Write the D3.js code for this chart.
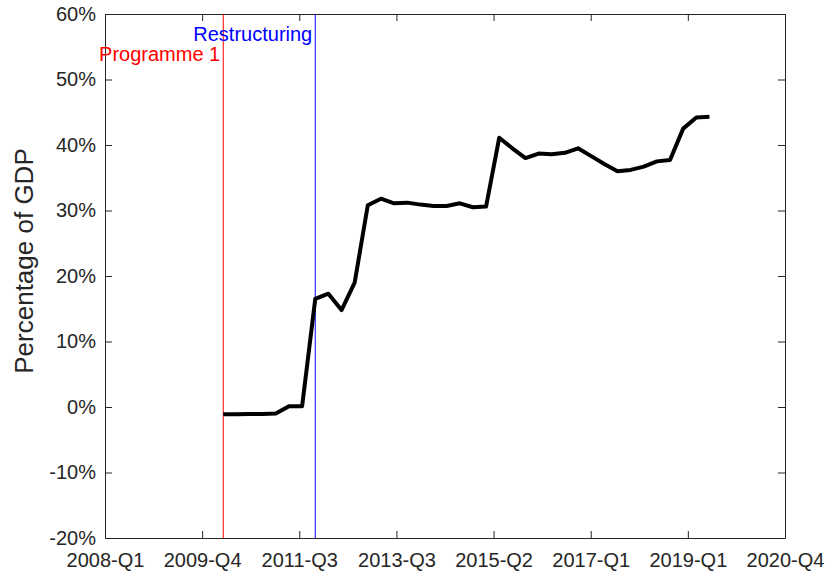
<!DOCTYPE html>
<html>
<head>
<meta charset="utf-8">
<script src="https://cdn.jsdelivr.net/npm/d3@7"></script>
<style>
  body { margin: 0; background: #fff; }
  svg { display: block; font-family: "Liberation Sans", Arial, sans-serif; }
</style>
</head>
<body>
<div id="chart"></div>
<script>
// quarter index 0 = 2008-Q1
const quarterIdx = [9, 10, 11, 12, 13, 14, 15, 16, 17, 18, 19, 20, 21, 22, 23, 24, 25, 26, 27, 28,
                    29, 30, 31, 32, 33, 34, 35, 36, 37, 38, 39, 40, 41, 42, 43, 44, 45, 46];
const values = [-1.1, -1.1, -1.05, -1.05, -1.0, 0.1, 0.1, 16.5, 17.3, 14.8, 19.0, 30.8, 31.8, 31.1, 31.2, 30.9, 30.7, 30.7, 31.1, 30.5,
                30.6, 41.1, 39.5, 38.0, 38.7, 38.6, 38.8, 39.5, 38.3, 37.1, 36.0, 36.2, 36.7, 37.5, 37.7, 42.5, 44.2, 44.3];
const xTickLabels = ["2008-Q1", "2009-Q4", "2011-Q3", "2013-Q3", "2015-Q2", "2017-Q1", "2019-Q1", "2020-Q4"];
const yTicks = [-20, -10, 0, 10, 20, 30, 40, 50, 60];
const events = [
  { idx: 9, label: "Programme 1", colour: "#ff0000", labelY: 61 },
  { idx: 16, label: "Restructuring", colour: "#0000ff", labelY: 41 }
];

const width = 827, height = 574;
const margin = { top: 14, right: 42, bottom: 36, left: 105 };
const xMax = 51.75;

const svg = d3.select("#chart").append("svg")
  .attr("width", width)
  .attr("height", height);

const x = d3.scaleLinear().domain([0, xMax]).range([margin.left, width - margin.right]);
const y = d3.scaleLinear().domain([-20, 60]).range([height - margin.bottom, margin.top]);

const xTickVals = d3.range(xTickLabels.length).map(i => i * xMax / (xTickLabels.length - 1));
const axisColour = "#262626";

// axes (box with inward ticks on all sides)
const xAxis = svg.append("g")
  .attr("transform", `translate(0,${y(-20)})`)
  .call(d3.axisBottom(x).tickValues(xTickVals).tickFormat((d, i) => xTickLabels[i])
    .tickSizeInner(-7).tickSizeOuter(0).tickPadding(15));
const xTop = svg.append("g")
  .attr("transform", `translate(0,${y(60)})`)
  .call(d3.axisTop(x).tickValues(xTickVals).tickFormat("").tickSizeInner(-7).tickSizeOuter(0));
const yAxis = svg.append("g")
  .attr("transform", `translate(${x(0)},0)`)
  .call(d3.axisLeft(y).tickValues(yTicks).tickFormat(d => d + "%")
    .tickSizeInner(-7).tickSizeOuter(0).tickPadding(9));
const yRight = svg.append("g")
  .attr("transform", `translate(${x(xMax)},0)`)
  .call(d3.axisRight(y).tickValues(yTicks).tickFormat("").tickSizeInner(-7).tickSizeOuter(0));

[xAxis, xTop, yAxis, yRight].forEach(g => {
  g.select(".domain").attr("stroke", axisColour).attr("stroke-width", 1);
  g.selectAll(".tick line").attr("stroke", axisColour).attr("stroke-width", 1);
  g.selectAll(".tick text").attr("fill", axisColour).attr("font-size", "20px")
    .attr("font-family", "Liberation Sans, Arial, sans-serif");
});

// event lines
events.forEach(e => {
  svg.append("line")
    .attr("x1", x(e.idx)).attr("x2", x(e.idx))
    .attr("y1", y(60)).attr("y2", y(-20))
    .attr("stroke", e.colour).attr("stroke-width", 1);
  svg.append("text")
    .attr("x", x(e.idx) - 3)
    .attr("y", e.labelY)
    .attr("text-anchor", "end")
    .attr("font-size", "20px")
    .attr("fill", e.colour)
    .text(e.label);
});

// series
const line = d3.line()
  .x((d, i) => x(quarterIdx[i]))
  .y(d => y(d));

svg.append("path")
  .datum(values)
  .attr("fill", "none")
  .attr("stroke", "#000")
  .attr("stroke-width", 4)
  .attr("stroke-linejoin", "round")
  .attr("d", line);

// y label
svg.append("text")
  .attr("transform", `translate(33,${261}) rotate(-90)`)
  .attr("text-anchor", "middle")
  .attr("font-size", "26px")
  .attr("fill", axisColour)
  .text("Percentage of GDP");
</script>
</body>
</html>
